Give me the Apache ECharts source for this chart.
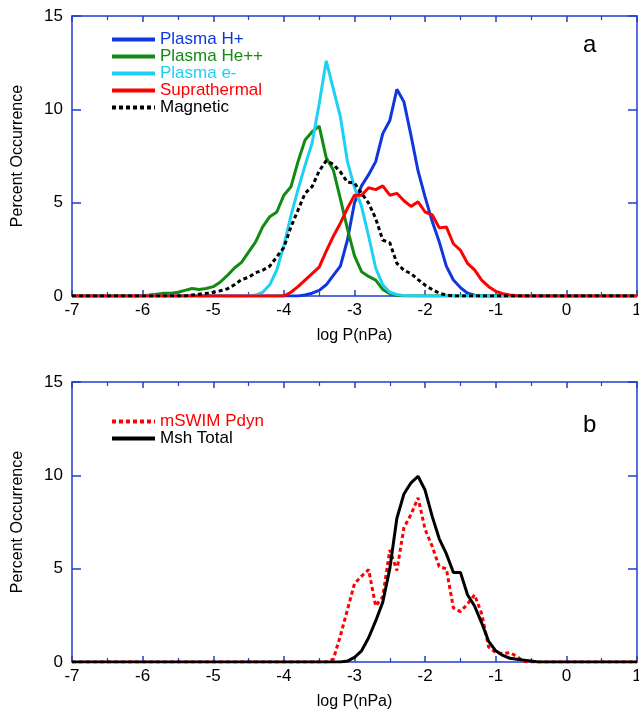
<!DOCTYPE html>
<html><head><meta charset="utf-8">
<script src="https://cdn.jsdelivr.net/npm/echarts@6/dist/echarts.min.js"></script>
<style>html,body{margin:0;padding:0;background:#fff;overflow:hidden}#c{width:639px;height:716px}</style>
</head><body><div id="c"></div>
<script>
// x grid: log P(nPa) from -7 to 1, step 0.1
const logP = [-7.0,-6.9,-6.8,-6.7,-6.6,-6.5,-6.4,-6.3,-6.2,-6.1,
  -6.0,-5.9,-5.8,-5.7,-5.6,-5.5,-5.4,-5.3,-5.2,-5.1,
  -5.0,-4.9,-4.8,-4.7,-4.6,-4.5,-4.4,-4.3,-4.2,-4.1,
  -4.0,-3.9,-3.8,-3.7,-3.6,-3.5,-3.4,-3.3,-3.2,-3.1,
  -3.0,-2.9,-2.8,-2.7,-2.6,-2.5,-2.4,-2.3,-2.2,-2.1,
  -2.0,-1.9,-1.8,-1.7,-1.6,-1.5,-1.4,-1.3,-1.2,-1.1,
  -1.0,-0.9,-0.8,-0.7,-0.6,-0.5,-0.4,-0.3,-0.2,-0.1,
  0.0,0.1,0.2,0.3,0.4,0.5,0.6,0.7,0.8,0.9,1.0];

// panel a
const plasmaH = [0,0,0,0,0,0,0,0,0,0,
  0,0,0,0,0,0,0,0,0,0,
  0,0,0,0,0,0,0,0,0,0,
  0,0,0,0.05,0.15,0.3,0.6,1.1,1.6,3.0,
  5.0,5.9,6.5,7.2,8.7,9.4,11.07,10.4,8.6,6.7,
  5.3,4.0,2.9,1.6,0.86,0.45,0.15,0.04,0,0,
  0,0,0,0,0,0,0,0,0,0,
  0,0,0,0,0,0,0,0,0,0,0];
const plasmaHe = [0,0,0,0,0,0,0,0,0,0,
  0.02,0.05,0.1,0.15,0.15,0.2,0.3,0.4,0.35,0.4,
  0.5,0.75,1.1,1.5,1.8,2.35,2.9,3.7,4.25,4.5,
  5.4,5.85,7.2,8.36,8.8,9.1,7.4,6.75,5.2,3.6,
  2.15,1.3,1.05,0.85,0.35,0.12,0.04,0,0,0,
  0,0,0,0,0,0,0,0,0,0,
  0,0,0,0,0,0,0,0,0,0,
  0,0,0,0,0,0,0,0,0,0,0];
const plasmaE = [0,0,0,0,0,0,0,0,0,0,
  0,0,0,0,0,0,0,0,0,0,
  0,0,0,0,0,0,0.05,0.2,0.6,1.4,
  2.7,4.3,5.7,7.0,8.2,10.3,12.6,11.1,9.6,7.2,
  5.8,4.8,3.2,1.5,0.6,0.2,0.08,0.02,0,0,
  0,0,0,0,0,0,0,0,0,0,
  0,0,0,0,0,0,0,0,0,0,
  0,0,0,0,0,0,0,0,0,0,0];
const suprathermal = [0,0,0,0,0,0,0,0,0,0,
  0,0,0,0,0,0,0,0,0,0,
  0,0,0,0,0,0,0,0,0,0,
  0,0.2,0.5,0.85,1.2,1.55,2.4,3.2,3.9,4.7,
  5.4,5.4,5.8,5.7,5.9,5.4,5.5,5.1,4.8,5.05,
  4.5,4.35,3.65,3.7,2.8,2.45,1.75,1.4,0.85,0.5,
  0.25,0.12,0.05,0.02,0,0,0,0,0,0,
  0,0,0,0,0,0,0,0,0,0,0];
const magnetic = [0,0,0,0,0,0,0,0,0,0,
  0,0,0,0,0,0,0,0.05,0.1,0.14,
  0.2,0.28,0.38,0.6,0.88,1.0,1.25,1.38,1.6,2.1,
  2.6,3.7,4.6,5.5,5.86,6.7,7.25,7.05,6.65,6.1,
  6.05,5.5,4.98,4.15,3.0,2.85,1.75,1.38,1.2,0.88,
  0.58,0.35,0.15,0.05,0,0,0,0,0,0,
  0,0,0,0,0,0,0,0,0,0,
  0,0,0,0,0,0,0,0,0,0,0];

// panel b
const mswimPdyn = [0,0,0,0,0,0,0,0,0,0,
  0,0,0,0,0,0,0,0,0,0,
  0,0,0,0,0,0,0,0,0,0,
  0,0,0,0,0,0,0,0.15,1.4,2.8,
  4.2,4.6,4.95,3.0,3.5,6.0,4.9,7.2,7.9,8.8,
  7.1,6.2,5.1,5.0,2.9,2.7,3.1,3.6,2.6,0.8,
  0.5,0.45,0.5,0.3,0.02,0,0,0,0,0,
  0,0,0,0,0,0,0,0,0,0,0];
const mshTotal = [0,0,0,0,0,0,0,0,0,0,
  0,0,0,0,0,0,0,0,0,0,
  0,0,0,0,0,0,0,0,0,0,
  0,0,0,0,0,0,0,0,0,0.05,
  0.25,0.6,1.3,2.2,3.2,5.0,7.7,9.0,9.6,9.95,
  9.2,7.8,6.6,5.8,4.8,4.8,3.6,3.0,2.1,1.1,
  0.6,0.35,0.2,0.15,0.1,0.05,0,0,0,0,
  0,0,0,0,0,0,0,0,0,0,0];

const xTicks = {min:-7, max:1, interval:1};
const yTicks = {min:0, max:15, interval:5};

const AX = '#1f3fd0';
const FONT = 'Liberation Sans';
function pairs(ys){ return logP.map((x,i)=>[x, ys[i]]); }

function xAxes(gi){
  const base = {type:'value', gridIndex:gi, min:xTicks.min, max:xTicks.max, interval:xTicks.interval,
    axisLine:{show:true, onZero:false, lineStyle:{color:AX, width:1.5}},
    axisTick:{show:true, inside:true, length:6, lineStyle:{color:AX, width:1.5}},
    minorTick:{show:true, splitNumber:2, length:4, lineStyle:{color:AX, width:1.2}},
    splitLine:{show:false}};
  return [
    Object.assign({}, base, {position:'bottom', name:'log P(nPa)', nameLocation:'middle', nameGap:32,
      nameTextStyle:{color:'#000', fontSize:16, fontFamily:FONT},
      axisLabel:{color:'#000', fontSize:17, fontFamily:FONT, margin:6}}),
    Object.assign({}, base, {position:'top', axisLabel:{show:false}})
  ];
}
function yAxes(gi){
  const base = {type:'value', gridIndex:gi, min:yTicks.min, max:yTicks.max, interval:yTicks.interval,
    axisLine:{show:true, onZero:false, lineStyle:{color:AX, width:1.5}},
    axisTick:{show:true, inside:true, length:9, lineStyle:{color:AX, width:1.5}},
    splitLine:{show:false}};
  return [
    Object.assign({}, base, {position:'left', name:'Percent Occurrence', nameLocation:'middle', nameGap:46,
      nameTextStyle:{color:'#000', fontSize:16, fontFamily:FONT},
      axisLabel:{color:'#000', fontSize:17, fontFamily:FONT, margin:9}}),
    Object.assign({}, base, {position:'right', axisLabel:{show:false}})
  ];
}
function line(name, ys, color, xi, yi, dashed){
  return {name, type:'line', xAxisIndex:xi, yAxisIndex:yi, data:pairs(ys), symbol:'none',
    showSymbol:false, animation:false, lineStyle:{color, width:3, type: dashed ? [4,3] : 'solid'},
    itemStyle:{color}};
}
const C = {blue:'#1036e0', green:'#138a13', cyan:'#1ed0f5', red:'#ff0000', black:'#000000'};

const legendBase = {orient:'vertical', left:105, itemWidth:43, itemHeight:12, itemGap:0,
  itemStyle:{opacity:0}, lineStyle:{width:4},
  textStyle:{fontSize:17, fontFamily:FONT, lineHeight:17}};

const chart = echarts.init(document.getElementById('c'), null, {renderer:'canvas'});
chart.setOption({
  animation:false,
  textStyle:{fontFamily:FONT},
  grid:[{left:72, top:16, right:2, height:280, outerBoundsMode:'none', containLabel:false},
        {left:72, top:382, right:2, height:280, outerBoundsMode:'none', containLabel:false}],
  xAxis:[...xAxes(0), ...xAxes(1)],
  yAxis:[...yAxes(0), ...yAxes(1)],
  legend:[
    Object.assign({}, legendBase, {top:26,
     data:[
      {name:'Plasma H+', textStyle:{color:C.blue}},
      {name:'Plasma He++', textStyle:{color:C.green}},
      {name:'Plasma e-', textStyle:{color:C.cyan}},
      {name:'Suprathermal', textStyle:{color:C.red}},
      {name:'Magnetic', textStyle:{color:C.black}}]}),
    Object.assign({}, legendBase, {top:408,
     data:[
      {name:'mSWIM Pdyn', textStyle:{color:C.red}},
      {name:'Msh Total', textStyle:{color:C.black}}]})
  ],
  graphic:[
    {type:'text', left:583, top:33, style:{text:'a', fontSize:24, fontFamily:FONT, fill:'#000'}},
    {type:'text', left:583, top:413, style:{text:'b', fontSize:24, fontFamily:FONT, fill:'#000'}}
  ],
  series:[
    line('Plasma H+', plasmaH, C.blue, 0, 0),
    line('Plasma He++', plasmaHe, C.green, 0, 0),
    line('Plasma e-', plasmaE, C.cyan, 0, 0),
    line('Suprathermal', suprathermal, C.red, 0, 0),
    line('Magnetic', magnetic, C.black, 0, 0, true),
    line('mSWIM Pdyn', mswimPdyn, C.red, 2, 2, true),
    line('Msh Total', mshTotal, C.black, 2, 2)
  ]
});
</script></body></html>
